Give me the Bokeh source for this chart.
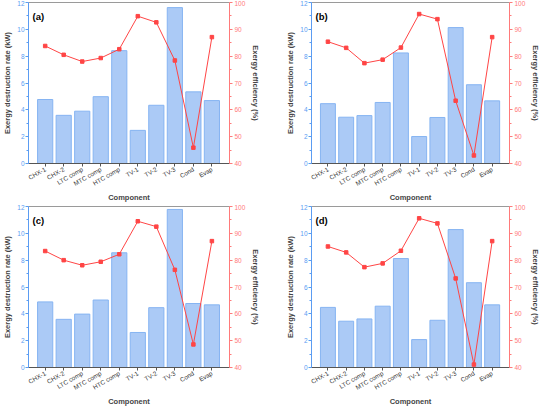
import math
from bokeh.plotting import figure
from bokeh.models import Range1d, LinearAxis, FixedTicker, Label, ColumnDataSource
from bokeh.layouts import gridplot
from bokeh.embed import file_html
from bokeh.resources import INLINE

categories = ["CHX-1", "CHX-2", "LTC comp", "MTC comp", "HTC comp",
              "TV-1", "TV-2", "TV-3", "Cond", "Evap"]

destruction_a = [4.77, 3.59, 3.90, 4.98, 8.41, 2.47, 4.34, 11.62, 5.34, 4.69]
efficiency_a = [83.8, 80.5, 78.0, 79.3, 82.6, 94.9, 92.6, 78.4, 45.9, 87.1]
destruction_b = [4.46, 3.45, 3.57, 4.55, 8.24, 2.01, 3.43, 10.13, 5.87, 4.67]
efficiency_b = [85.4, 83.1, 77.4, 78.7, 83.2, 95.7, 93.8, 63.4, 43.0, 87.1]
destruction_c = [4.89, 3.59, 3.98, 5.03, 8.55, 2.61, 4.46, 11.78, 4.77, 4.67]
efficiency_c = [83.4, 80.0, 78.1, 79.4, 82.2, 94.5, 92.5, 76.4, 48.6, 87.1]
destruction_d = [4.48, 3.45, 3.62, 4.57, 8.12, 2.08, 3.52, 10.28, 6.32, 4.67]
efficiency_d = [85.1, 82.9, 77.4, 78.8, 83.5, 95.6, 93.7, 73.2, 41.1, 87.1]

panel_labels = ["(a)", "(b)", "(c)", "(d)"]
left_ticks = [0, 2, 4, 6, 8, 10, 12]
right_ticks = [40, 50, 60, 70, 80, 90, 100]

FONT = "Liberation Sans"
BLUE_AX = "#5b9cf2"
RED_AX = "#ff7a7a"
BAR_FILL = "#abcaf6"
BAR_LINE = "#86b4f2"
LINE_RED = "#ff4545"


def make_panel(destr, eff, tag, col, row):
    xs = list(range(len(categories)))
    src = ColumnDataSource(dict(x=xs, d=destr, e=eff))
    if col == 0:
        fw, bl, br = 201, 23, 54
    else:
        fw, bl, br = 198, 28, 29
    fh = 161
    bt = 2
    bb = 40 if row == 0 else 35
    p = figure(frame_width=fw, frame_height=fh,
               x_range=Range1d(-0.9, len(categories) - 0.05),
               y_range=Range1d(0, 12),
               output_backend="svg", toolbar_location=None,
               min_border_left=bl, min_border_right=br,
               min_border_top=bt, min_border_bottom=bb)
    p.extra_y_ranges = {"eff": Range1d(40, 100)}
    p.xgrid.visible = False
    p.ygrid.visible = False
    p.outline_line_color = "#9a9a9a"
    p.outline_line_width = 1
    p.background_fill_color = "white"
    p.border_fill_color = "white"

    p.vbar(x="x", top="d", width=0.82, source=src,
           fill_color=BAR_FILL, line_color=BAR_LINE, line_width=1)
    p.line(x="x", y="e", source=src, y_range_name="eff",
           line_color=LINE_RED, line_width=1)
    p.scatter(x="x", y="e", source=src, y_range_name="eff", marker="square",
              size=3.5, fill_color=LINE_RED, line_color=LINE_RED)

    # bottom axis
    xa = p.xaxis[0]
    xa.ticker = FixedTicker(ticks=xs)
    xa.major_label_overrides = {i: c for i, c in enumerate(categories)}
    xa.major_label_orientation = math.pi / 6
    xa.major_label_text_font = FONT
    xa.major_label_text_font_size = "6.3px"
    xa.major_label_text_color = "#333333"
    xa.major_label_standoff = 2
    xa.axis_line_color = "#555555"
    xa.major_tick_line_color = "#555555"
    xa.major_tick_out = 3
    xa.major_tick_in = 0
    xa.minor_tick_line_color = None
    xa.axis_label = "Component"
    xa.axis_label_text_font = FONT
    xa.axis_label_text_font_style = "bold"
    xa.axis_label_text_font_size = "7.5px"
    xa.axis_label_standoff = 0

    # left axis
    ya = p.yaxis[0]
    ya.ticker = FixedTicker(ticks=left_ticks, minor_ticks=[1, 3, 5, 7, 9, 11])
    ya.axis_line_color = BLUE_AX
    ya.major_tick_line_color = BLUE_AX
    ya.minor_tick_line_color = BLUE_AX
    ya.major_tick_out = 3
    ya.major_tick_in = 0
    ya.minor_tick_out = 2
    ya.minor_tick_in = 0
    ya.major_label_text_color = BLUE_AX
    ya.major_label_text_font = FONT
    ya.major_label_text_font_size = "6.5px"
    ya.major_label_standoff = 1
    ya.axis_label = "Exergy destruction rate (kW)"
    ya.axis_label_text_font = FONT
    ya.axis_label_text_font_style = "bold"
    ya.axis_label_text_font_size = "7.5px"
    ya.axis_label_standoff = 2

    # right axis
    ra = LinearAxis(y_range_name="eff",
                    ticker=FixedTicker(ticks=right_ticks,
                                       minor_ticks=[45, 55, 65, 75, 85, 95]))
    ra.axis_line_color = RED_AX
    ra.major_tick_line_color = RED_AX
    ra.minor_tick_line_color = RED_AX
    ra.major_tick_out = 3
    ra.major_tick_in = 0
    ra.minor_tick_out = 2
    ra.minor_tick_in = 0
    ra.major_label_text_color = RED_AX
    ra.major_label_text_font = FONT
    ra.major_label_text_font_size = "6.5px"
    ra.major_label_standoff = 2
    ra.axis_label = "Exergy efficiency (%)"
    ra.axis_label_text_font = FONT
    ra.axis_label_text_font_style = "bold"
    ra.axis_label_text_font_size = "7.5px"
    ra.axis_label_standoff = 3
    p.add_layout(ra, "right")

    lab = Label(x=4, y=fh - 8, x_units="screen", y_units="screen", text=tag,
                text_font=FONT, text_font_style="bold", text_font_size="9.5px",
                text_baseline="top", text_color="black")
    p.add_layout(lab)
    return p


pa = make_panel(destruction_a, efficiency_a, panel_labels[0], 0, 0)
pb = make_panel(destruction_b, efficiency_b, panel_labels[1], 1, 0)
pc = make_panel(destruction_c, efficiency_c, panel_labels[2], 0, 1)
pd_ = make_panel(destruction_d, efficiency_d, panel_labels[3], 1, 1)

grid = gridplot([[pa, pb], [pc, pd_]], toolbar_location=None)

open("out.html", "w").write(file_html(grid, INLINE))
